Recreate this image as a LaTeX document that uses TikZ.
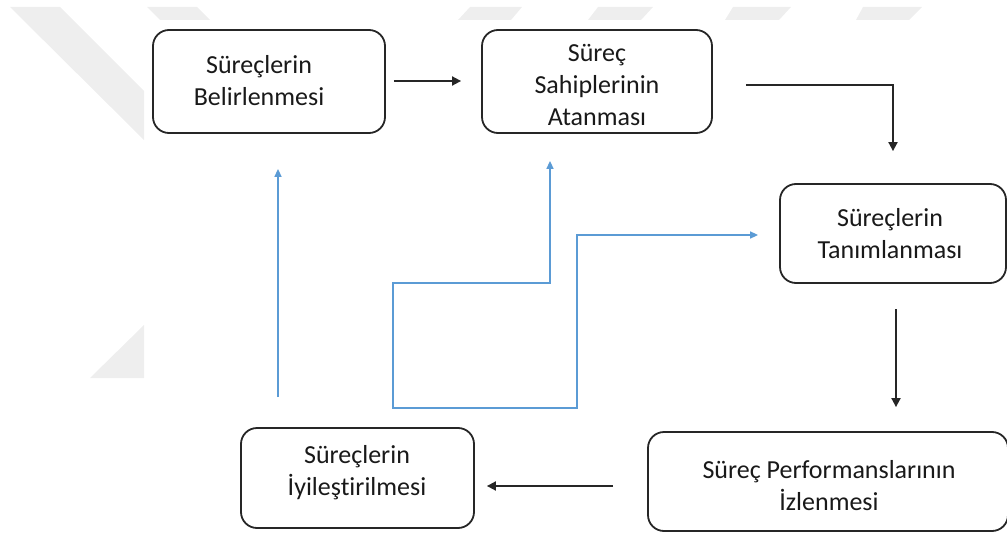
\documentclass[tikz,border=0pt]{standalone}
\usepackage{fontspec}
\setmainfont{Carlito}[Ligatures=NoCommon]
\usetikzlibrary{arrows.meta,calc}
\definecolor{wm}{HTML}{EEEEEE}
\definecolor{flowblue}{HTML}{5B9BD5}
\definecolor{boxline}{HTML}{262626}
\begin{document}
\begin{tikzpicture}[x=1pt,y=-1pt,
  stepbox/.style={draw=boxline,line width=1.8pt,rounded corners=16pt,inner sep=0pt},
  steptext/.style={align=center,font=\fontsize{26}{32}\selectfont,text=black!90,inner sep=0pt},
  blk/.style={draw=black!85,line width=1.8pt,-{Triangle[length=9pt,width=9pt]}},
  blu/.style={draw=flowblue,line width=1.5pt}]
  \useasboundingbox (0,0) rectangle (1007,535);

  % faint background marks
  \fill[wm] (10,7) -- (60,7) -- (144,91) -- (144,140) -- cycle;
  \fill[wm] (147,7) -- (197,7) -- (210,20) -- (160,20) -- cycle;
  \fill[wm] (470,7) -- (522,7) -- (511,20) -- (458,20) -- cycle;
  \fill[wm] (598,7) -- (653,7) -- (641,20) -- (588,20) -- cycle;
  \fill[wm] (733,7) -- (791,7) -- (779,20) -- (725,20) -- cycle;
  \fill[wm] (863,7) -- (922,7) -- (909,20) -- (856,20) -- cycle;
  \fill[wm] (90,378) -- (144,325) -- (144,378) -- cycle;

  % process boxes
  \node[stepbox,minimum width=232pt,minimum height=103pt] (b1) at (269,81.5) {};
  \node[stepbox,minimum width=230pt,minimum height=103pt] (b2) at (597,81.5) {};
  \node[stepbox,minimum width=226pt,minimum height=99pt] (b3) at (893,233.5) {};
  \node[stepbox,minimum width=360pt,minimum height=99pt] (b4) at (828,481.5) {};
  \node[stepbox,minimum width=233pt,minimum height=100pt] (b5) at (357.5,478) {};

  % box texts
  \node[steptext] (t1) at (259,81) {Süreçlerin\\Belirlenmesi};
  \node[steptext] (t2) at (597,85) {Süreç\\Sahiplerinin\\Atanması};
  \node[steptext] (t3) at (890,234) {Süreçlerin\\Tanımlanması};
  \node[steptext] (t4) at (829,486) {Süreç Performanslarının\\İzlenmesi};
  \node[steptext] (t5) at (357,473) {Süreçlerin\\İyileştirilmesi};

  % main flow
  \draw[blk] ($(b1.east)+(8,-0.5)$) -- ($(b2.west)+(-20,-0.5)$);
  \draw[blk] ($(b2.east)+(33,3.5)$) -| ($(b3.north)+(0,-32)$);
  \draw[blk] ($(b3.south)+(3,25.5)$) -- ($(b4.north)+(68,-24)$);
  \draw[blk] ($(b4.west)+(-34,4.5)$) -- ($(b5.east)+(12,8)$);

  % feedback paths
  \coordinate (u1) at ($(b5.north)+(-79.5,-30)$);
  \coordinate (u2) at ($(b1.south)+(9,35)$);
  \draw[blu,-{Triangle[length=8pt,width=7pt]}] (u1) -- (u2);

  \coordinate (f1) at ($(b2.south)+(-47,27)$);
  \coordinate (f2) at (550,283);
  \coordinate (f3) at (393,283);
  \coordinate (f4) at (393,408);
  \coordinate (f5) at (577,408);
  \coordinate (f6) at (577,235);
  \coordinate (f7) at ($(b3.west)+(-21,1.5)$);
  \draw[blu,{Triangle[length=8pt,width=7pt]}-{Triangle[length=8pt,width=7pt]}]
    (f1) -- (f2) -- (f3) -- (f4) -- (f5) -- (f6) -- (f7);
\end{tikzpicture}
\end{document}
